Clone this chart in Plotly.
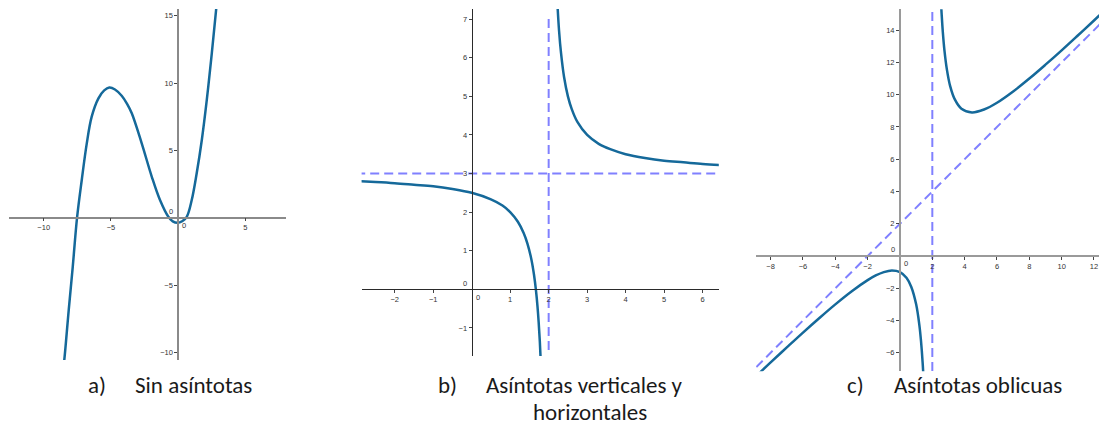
import plotly.graph_objects as go

W, H = 1099, 427

# ---- a) polynomial curve, no asymptotes ----
a_x = [-8.52, -8.47, -8.14, -7.84, -7.52, -7.17, -6.80, -6.43, -5.93, -5.50,
       -5.12, -4.70, -4.20, -3.80, -3.45, -2.71, -1.96, -1.35, -0.73, -0.40,
       -0.05, 0.30, 0.64, 1.01, 1.38, 1.76, 2.13, 2.45, 2.70, 2.83, 2.88]
a_y = [-10.9, -10.56, -6.85, -3.64, 0.0, 2.8, 5.5, 7.5, 8.86, 9.45,
       9.66, 9.52, 9.05, 8.45, 7.75, 5.52, 3.04, 1.31, 0.07, -0.27,
       -0.38, -0.26, 0.07, 1.31, 3.30, 5.77, 8.74, 11.7, 14.18, 15.5, 16.0]
a_xticks = [-10, -5, 5]
a_yticks = [-10, -5, 5, 10, 15]

# ---- b) vertical and horizontal asymptotes ----
b_left_x = [-2.9, -2.5, -2.0, -1.5, -1.0, -0.5, 0.0, 0.5, 0.8, 1.0,
            1.2, 1.35, 1.45, 1.55, 1.62, 1.67, 1.71, 1.74, 1.77, 1.80]
b_left_y = [2.80, 2.78, 2.75, 2.71, 2.67, 2.60, 2.50, 2.33, 2.17, 2.00,
            1.75, 1.46, 1.18, 0.78, 0.37, -0.03, -0.45, -0.85, -1.35, -2.00]
b_right_x = [2.20, 2.23, 2.27, 2.32, 2.40, 2.50, 2.60, 2.75, 3.0, 3.3,
             3.6, 4.0, 4.5, 5.0, 5.5, 6.0, 6.5]
b_right_y = [8.00, 7.35, 6.70, 6.13, 5.50, 5.00, 4.67, 4.33, 4.00, 3.77,
             3.63, 3.50, 3.40, 3.33, 3.29, 3.25, 3.22]
b_vasym_x = [2, 2]
b_vasym_y = [-1.57, 7.1]
b_hasym_x = [-3.0, 6.6]
b_hasym_y = [3, 3]
b_xticks = [-2, -1, 1, 2, 3, 4, 5, 6]
b_yticks = [-1, 1, 2, 3, 4, 5, 6, 7]

# ---- c) oblique asymptote ----
c_left_x = [-9.2, -8.0, -7.0, -6.0, -5.0, -4.0, -3.0, -2.0, -1.5, -1.0,
            -0.5, 0.0, 0.4, 0.7, 1.0, 1.2, 1.3, 1.4, 1.47]
c_left_y = [-7.74, -6.60, -5.67, -4.75, -3.86, -3.00, -2.20, -1.50, -1.21, -1.00,
            -0.90, -1.00, -1.35, -1.92, -3.00, -4.30, -5.27, -6.60, -7.85]
c_right_x = [2.52, 2.58, 2.65, 2.75, 2.9, 3.1, 3.4, 3.8, 4.45, 5.2,
             6.0, 7.0, 8.0, 9.0, 10.0, 11.0, 12.0, 12.6]
c_right_y = [16.06, 14.94, 13.88, 12.75, 11.57, 10.55, 9.69, 9.13, 8.90, 9.08,
             9.50, 10.20, 11.00, 11.86, 12.75, 13.67, 14.60, 15.17]
c_vasym_x = [2, 2]
c_vasym_y = [-8, 16]
c_oasym_x = [-9.5, 12.6]
c_oasym_y = [-7.5, 14.6]
c_xticks = [-8, -6, -4, -2, 2, 4, 6, 8, 10, 12]
c_yticks = [-6, -4, -2, 2, 4, 6, 8, 10, 12, 14]

# caption texts with their left edge and vertical centre in pixels
captions = [
    ("a)", 87, 385), ("Sin asíntotas", 134, 385),
    ("b)", 437, 385), ("Asíntotas verticales y", 485, 385),
    ("c)", 846, 385), ("Asíntotas oblicuas", 893, 385),
]
caption_b_second = ("horizontales", 532)

CURVE = "#15699a"
ASYM = "rgb(128,128,255)"
TICKFONT = dict(family="Liberation Sans, Arial, sans-serif", size=7.5, color="#333333")
CAPFONT = dict(family="Carlito, Liberation Sans, Arial, sans-serif", size=23, color="#1a1a1a")

# pixel boxes (left, right, top, bottom) and data ranges of each panel
panels = [
    dict(box=(9.3, 285.7, 8.9, 360.0), xr=[-12.56, 8.0], yr=[-10.56, 15.5],
         xt=a_xticks, yt=a_yticks, axcol="#8a8a8a", axw=1.5),
    dict(box=(361.6, 718.8, 9.1, 356.1), xr=[-2.86, 6.42], yr=[-1.73, 7.26],
         xt=b_xticks, yt=b_yticks, axcol="#2a2a2a", axw=1.2),
    dict(box=(756.1, 1099.0, 9.2, 371.3), xr=[-8.9, 12.31], yr=[-7.15, 15.3],
         xt=c_xticks, yt=c_yticks, axcol="#9a9a9a", axw=2.0),
]

fig = go.Figure()

def curve(x, y, i):
    ax = "" if i == 1 else str(i)
    fig.add_trace(go.Scatter(x=x, y=y, mode="lines", xaxis="x" + ax, yaxis="y" + ax,
                             line=dict(color=CURVE, width=2.5, shape="spline", smoothing=1.0),
                             hoverinfo="skip", showlegend=False))

def asym(x, y, i):
    ax = "" if i == 1 else str(i)
    fig.add_trace(go.Scatter(x=x, y=y, mode="lines", xaxis="x" + ax, yaxis="y" + ax,
                             line=dict(color=ASYM, width=2, dash="9px,5px"),
                             hoverinfo="skip", showlegend=False))

curve(a_x, a_y, 1)
asym(b_hasym_x, b_hasym_y, 2)
asym(b_vasym_x, b_vasym_y, 2)
curve(b_left_x, b_left_y, 2)
curve(b_right_x, b_right_y, 2)
asym(c_oasym_x, c_oasym_y, 3)
asym(c_vasym_x, c_vasym_y, 3)
curve(c_left_x, c_left_y, 3)
curve(c_right_x, c_right_y, 3)

layout = dict(width=W, height=H, margin=dict(l=0, r=0, t=0, b=0),
              paper_bgcolor="white", plot_bgcolor="white", showlegend=False)
annotations = []
for i, p in enumerate(panels, start=1):
    l, r, t, b = p["box"]
    xd = [l / W, r / W]
    yd = [1 - b / H, 1 - t / H]
    # axes cross at the origin
    xpos = yd[0] + (0 - p["yr"][0]) / (p["yr"][1] - p["yr"][0]) * (yd[1] - yd[0])
    ypos = xd[0] + (0 - p["xr"][0]) / (p["xr"][1] - p["xr"][0]) * (xd[1] - xd[0])
    ax = "" if i == 1 else str(i)
    common = dict(showgrid=False, zeroline=False, showline=True, linecolor=p["axcol"],
                  linewidth=p["axw"], ticks="outside", ticklen=3, tickwidth=1,
                  tickcolor="#444444", tickfont=TICKFONT, anchor="free", fixedrange=True)
    layout["xaxis" + ax] = dict(domain=xd, range=p["xr"], tickvals=p["xt"],
                                position=xpos, side="bottom", **common)
    layout["yaxis" + ax] = dict(domain=yd, range=p["yr"], tickvals=p["yt"],
                                position=ypos, side="left", **common)
    annotations.append(dict(x=0, y=0, xref="x" + ax, yref="y" + ax, text="0", showarrow=False,
                            font=TICKFONT, xshift=-7, yshift=6))
    annotations.append(dict(x=0, y=0, xref="x" + ax, yref="y" + ax, text="0", showarrow=False,
                            font=TICKFONT, xshift=6, yshift=-8))

for text, px, py in captions:
    annotations.append(dict(x=px / W, y=1 - py / H, xref="paper", yref="paper", text=text,
                            showarrow=False, xanchor="left", yanchor="middle", borderpad=0,
                            font=CAPFONT))
# second line of caption b sits on the bottom edge
annotations.append(dict(x=caption_b_second[1] / W, y=0, xref="paper", yref="paper",
                        text=caption_b_second[0], showarrow=False, xanchor="left",
                        yanchor="bottom", borderpad=0, font=CAPFONT))

layout["annotations"] = annotations
fig.update_layout(**layout)
fig.write_html("out.html")
